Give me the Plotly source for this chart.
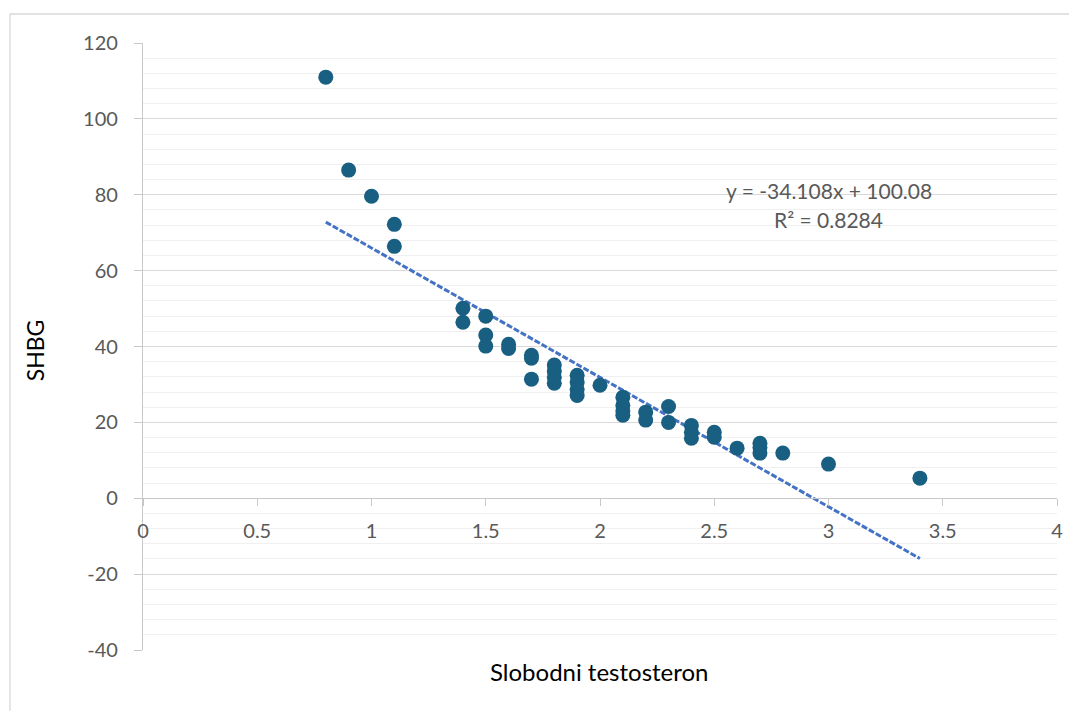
import plotly.graph_objects as go

# Data
x_vals = [0.8, 0.9, 1.0, 1.1, 1.1, 1.4, 1.4, 1.5, 1.5, 1.5, 1.6, 1.6,
          1.7, 1.7, 1.7, 1.8, 1.8, 1.8, 1.8, 1.9, 1.9, 1.9, 1.9, 2.0,
          2.1, 2.1, 2.1, 2.1, 2.2, 2.2, 2.3, 2.3, 2.4, 2.4, 2.4, 2.5, 2.5,
          2.6, 2.7, 2.7, 2.7, 2.8, 3.0, 3.4]
y_vals = [111.0, 86.5, 79.6, 72.2, 66.4, 50.1, 46.4, 48.0, 43.0, 40.1, 40.6, 39.5,
          37.7, 36.9, 31.4, 35.1, 33.5, 31.9, 30.3, 32.4, 30.6, 28.7, 27.1, 29.8,
          26.6, 24.5, 23.0, 21.9, 22.7, 20.6, 24.2, 20.0, 19.2, 17.4, 15.8, 17.4, 16.1,
          13.2, 14.5, 13.4, 11.9, 11.9, 9.0, 5.3]

slope = -34.108
intercept = 100.08
r2 = 0.8284

y_tick_vals = [-40, -20, 0, 20, 40, 60, 80, 100, 120]
y_tick_labels = ["-40", "-20", "0", "20", "40", "60", "80", "100", "120"]
x_tick_vals = [0, 0.5, 1, 1.5, 2, 2.5, 3, 3.5, 4]
x_tick_labels = ["0", "0.5", "1", "1.5", "2", "2.5", "3", "3.5", "4"]

x_title = "Slobodni testosteron"
y_title = "SHBG"

FONT = "Lato"
TICK_COLOR = "#595959"

trend_x = [min(x_vals), max(x_vals)]
trend_y = [slope * v + intercept for v in trend_x]

fig = go.Figure()
fig.add_trace(go.Scatter(
    x=trend_x, y=trend_y, mode="lines",
    line=dict(color="#4472C4", width=3, dash="6px,2px"),
    hoverinfo="skip", showlegend=False,
))
fig.add_trace(go.Scatter(
    x=x_vals, y=y_vals, mode="markers",
    marker=dict(color="#185F82", size=15, line=dict(width=0)),
    showlegend=False,
))

fig.update_layout(
    width=1077, height=711,
    margin=dict(l=135, r=28, t=35, b=69),
    paper_bgcolor="white", plot_bgcolor="white",
    font=dict(family=FONT, size=20, color=TICK_COLOR),
    showlegend=False,
)

fig.update_xaxes(
    range=[0, 4], tickmode="array", tickvals=x_tick_vals, ticktext=x_tick_labels,
    anchor="free", position=0.25,
    showgrid=False, zeroline=False,
    showline=True, linecolor="#c8c8c8", linewidth=1.3,
    ticks="outside", ticklen=7, tickcolor="#c8c8c8", tickwidth=1.3,
    ticklabelstandoff=8,
    tickfont=dict(family=FONT, size=20, color=TICK_COLOR),
)
fig.update_yaxes(
    range=[-40, 120], tickmode="array", tickvals=y_tick_vals, ticktext=y_tick_labels,
    showgrid=True, gridcolor="#d9d9d9", gridwidth=1.3,
    minor=dict(dtick=4, tick0=0, showgrid=True, gridcolor="#f0f0f0", gridwidth=1.3, ticks=""),
    zeroline=False,
    showline=True, linecolor="#c8c8c8", linewidth=1.3,
    ticks="outside", ticklen=8, tickcolor="#c8c8c8", tickwidth=1.3,
    ticklabelstandoff=12,
    tickfont=dict(family=FONT, size=20, color=TICK_COLOR),
)

# Trendline equation labels
fig.add_annotation(x=3.0, y=81.2, xref="x", yref="y", showarrow=False,
                   xanchor="center", yanchor="middle",
                   text=f"y = {slope}x + {intercept:.2f}",
                   font=dict(family=FONT, size=21, color=TICK_COLOR))
fig.add_annotation(x=3.0, y=73.5, xref="x", yref="y", showarrow=False,
                   xanchor="center", yanchor="middle",
                   text=f"R² = {r2}",
                   font=dict(family=FONT, size=21, color=TICK_COLOR))

# Axis titles
fig.add_annotation(x=0.499, y=-0.036, xref="paper", yref="paper", showarrow=False,
                   xanchor="center", yanchor="middle",
                   text=x_title, font=dict(family=FONT, size=24, color="#000000"))
fig.add_annotation(x=-0.118, y=0.494, xref="paper", yref="paper", showarrow=False,
                   xanchor="center", yanchor="middle",
                   text=y_title, textangle=-90,
                   font=dict(family=FONT, size=23, color="#000000"))

# Chart area border
fig.add_shape(type="rect", xref="paper", yref="paper",
              x0=-0.1455, x1=1.06, y0=-0.2, y1=1.0478,
              line=dict(color="#d9d9d9", width=1.3), fillcolor="rgba(0,0,0,0)",
              layer="below")

fig.write_html("out.html")
